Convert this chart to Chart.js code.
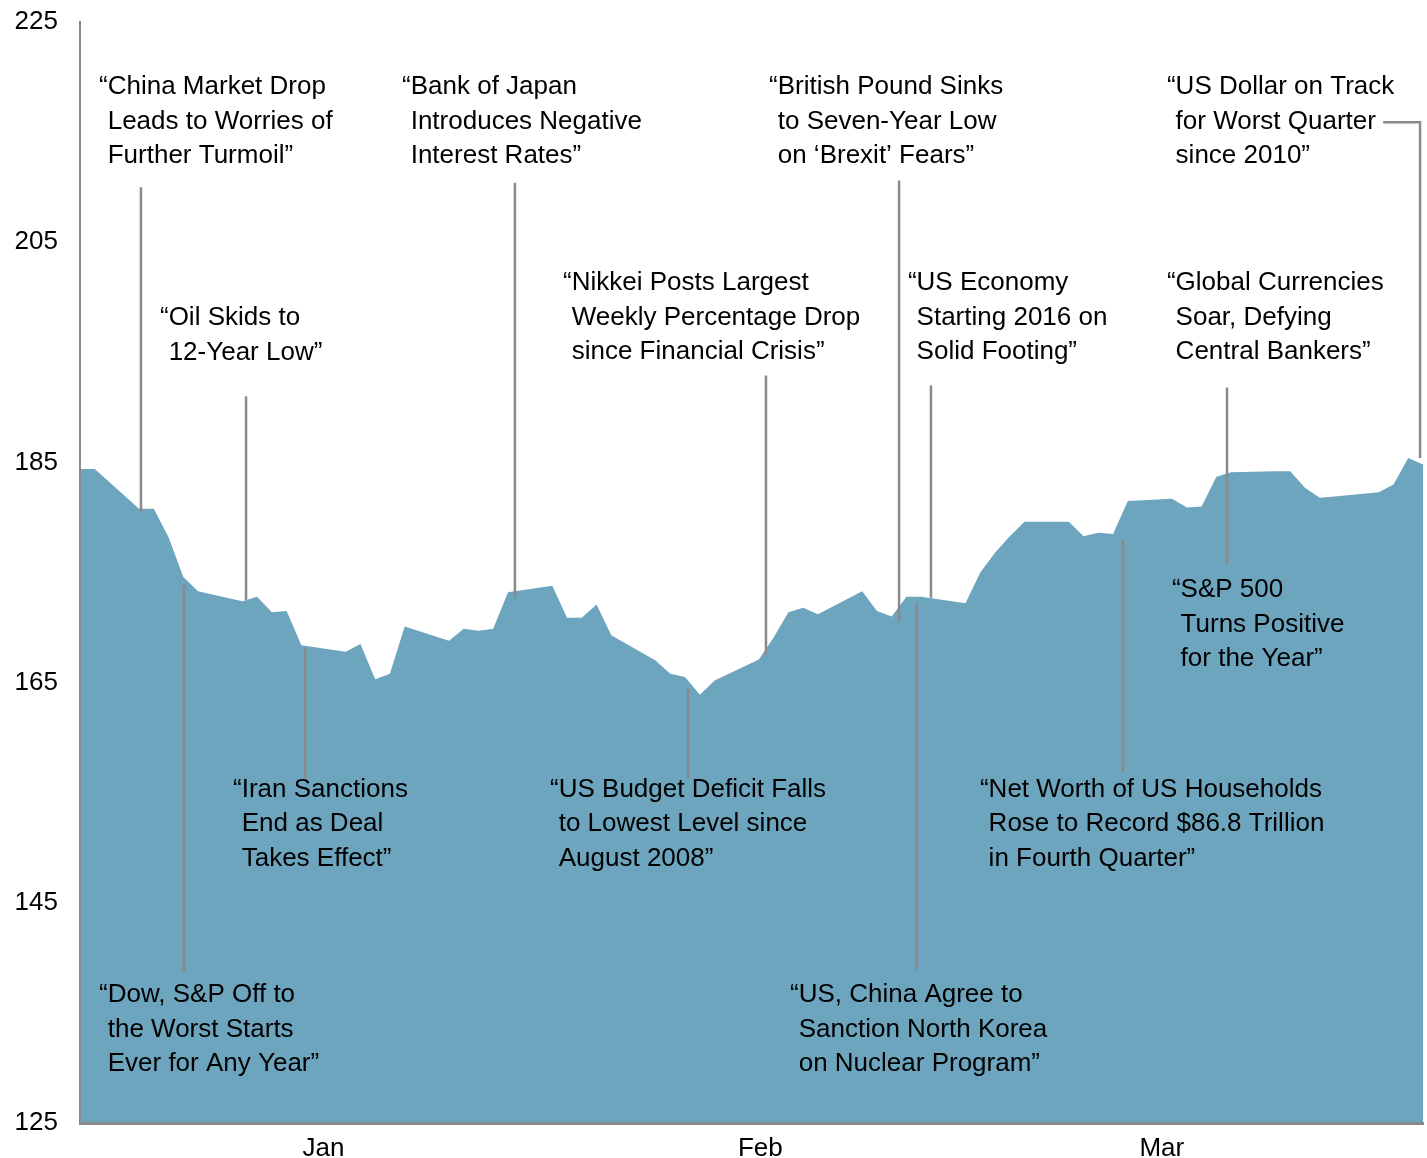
<!DOCTYPE html>
<html>
<head>
<meta charset="utf-8">
<script src="https://cdn.jsdelivr.net/npm/chart.js@4.4.1/dist/chart.umd.min.js"></script>
<style>
  html, body { margin: 0; padding: 0; background: #fff; }
  canvas { display: block; }
</style>
</head>
<body>
<canvas id="chart" width="1427" height="1158"></canvas>
<script>
// day number counted from 31 Dec 2015, weekends left out
const days = [0, 1, 4, 5, 6, 7, 8, 11, 12, 13, 14, 15, 18, 19, 20, 21, 22, 25, 26, 27, 28, 29,
  32, 33, 34, 35, 36, 39, 40, 41, 42, 43, 46, 47, 48, 49, 50, 53, 54, 55, 56, 57,
  60, 61, 62, 63, 64, 67, 68, 69, 70, 71, 74, 75, 76, 77, 78, 81, 82, 83, 84, 85, 88, 89, 90, 91];
const values = [184.4, 184.4, 180.8, 180.8, 178.2, 174.6, 173.3, 172.4, 172.8, 171.4, 171.5, 168.4,
  167.8, 168.5, 165.3, 165.8, 170.1, 168.8, 169.9, 169.7, 169.9, 173.2,
  173.8, 170.9, 170.9, 172.1, 169.3, 167.0, 165.8, 165.5, 163.9, 165.2,
  167.1, 169.1, 171.4, 171.8, 171.2, 173.3, 171.5, 171.0, 172.8, 172.8,
  172.2, 175.0, 176.8, 178.3, 179.6, 179.6, 178.3, 178.6, 178.5, 181.5,
  181.7, 180.9, 181.0, 183.7, 184.1, 184.2, 184.2, 182.7, 181.8, 181.9, 182.3, 183.0, 185.4, 184.8];

const monthLabels = ["Jan", "Feb", "Mar"];
const monthDays = [16.5, 46.1, 73.3];
const yTicks = [125, 145, 165, 185, 205, 225];

// headlines: text lines, where the text starts (day, value) and the leader line (day, from, to)
const headlines = [
  { lines: ["\u201CChina Market Drop", "Leads to Worries of", "Further Turmoil\u201D"], tx: 1.29, ty: 219.1, lx: 4.13, l1: 210.0, l2: 180.5 },
  { lines: ["\u201COil Skids to", "12-Year Low\u201D"], tx: 5.42, ty: 198.1, lx: 11.25, l1: 191.0, l2: 172.5 },
  { lines: ["\u201CBank of Japan", "Introduces Negative", "Interest Rates\u201D"], tx: 21.82, ty: 219.1, lx: 29.47, l1: 210.4, l2: 172.7 },
  { lines: ["\u201CNikkei Posts Largest", "Weekly Percentage Drop", "since Financial Crisis\u201D"], tx: 32.73, ty: 201.3, lx: 46.48, l1: 192.9, l2: 167.5 },
  { lines: ["\u201CBritish Pound Sinks", "to Seven-Year Low", "on \u2018Brexit\u2019 Fears\u201D"], tx: 46.69, ty: 219.1, lx: 55.5, l1: 210.6, l2: 170.5 },
  { lines: ["\u201CUS Economy", "Starting 2016 on", "Solid Footing\u201D"], tx: 56.1, ty: 201.3, lx: 57.66, l1: 192.0, l2: 172.7 },
  { lines: ["\u201CUS Dollar on Track", "for Worst Quarter", "since 2010\u201D"], tx: 73.65, ty: 219.1, lx: 90.8, l1: 215.9, l2: 185.4, elbow: 88.3 },
  { lines: ["\u201CGlobal Currencies", "Soar, Defying", "Central Bankers\u201D"], tx: 73.65, ty: 201.3, lx: 77.72, l1: 191.8, l2: 175.7 },
  { lines: ["\u201CDow, S&P Off to", "the Worst Starts", "Ever for Any Year\u201D"], tx: 1.29, ty: 136.6, lx: 7.05, l1: 173.9, l2: 138.7 },
  { lines: ["\u201CIran Sanctions", "End as Deal", "Takes Effect\u201D"], tx: 10.37, ty: 155.3, lx: 15.25, l1: 168.1, l2: 156.3 },
  { lines: ["\u201CUS Budget Deficit Falls", "to Lowest Level since", "August 2008\u201D"], tx: 31.85, ty: 155.3, lx: 41.2, l1: 164.5, l2: 156.3 },
  { lines: ["\u201CUS, China Agree to", "Sanction North Korea", "on Nuclear Program\u201D"], tx: 48.11, ty: 136.6, lx: 56.7, l1: 172.2, l2: 138.9 },
  { lines: ["\u201CNet Worth of US Households", "Rose to Record $86.8 Trillion", "in Fourth Quarter\u201D"], tx: 60.98, ty: 155.3, lx: 70.67, l1: 178.0, l2: 156.9 },
  { lines: ["\u201CS&P 500", "Turns Positive", "for the Year\u201D"], tx: 73.99, ty: 173.4, lx: null }
];

const FONT = "26px 'Liberation Sans', Arial, sans-serif";
const GREY = "#8a8a8a";

const headlinePlugin = {
  id: "headlines",
  afterDatasetsDraw(chart) {
    const ctx = chart.ctx;
    const xs = chart.scales.x, ys = chart.scales.y;
    ctx.save();
    ctx.strokeStyle = GREY;
    ctx.lineWidth = 2.5;
    headlines.forEach(h => {
      if (h.lx === null) return;
      const x = xs.getPixelForValue(h.lx);
      ctx.beginPath();
      if (h.elbow !== undefined) {
        ctx.moveTo(xs.getPixelForValue(h.elbow), ys.getPixelForValue(h.l1));
        ctx.lineTo(x, ys.getPixelForValue(h.l1));
      } else {
        ctx.moveTo(x, ys.getPixelForValue(h.l1));
      }
      ctx.lineTo(x, ys.getPixelForValue(h.l2));
      ctx.stroke();
    });
    ctx.font = FONT;
    ctx.fillStyle = "#000";
    ctx.textBaseline = "middle";
    ctx.textAlign = "left";
    const indent = ctx.measureText("\u201C").width;
    headlines.forEach(h => {
      const x0 = xs.getPixelForValue(h.tx);
      const y0 = ys.getPixelForValue(h.ty);
      h.lines.forEach((t, i) => {
        ctx.fillText(t, x0 + (i > 0 ? indent : 0), y0 + i * 34.5);
      });
    });
    ctx.restore();
  }
};

new Chart(document.getElementById("chart").getContext("2d"), {
  type: "line",
  data: {
    datasets: [{
      data: days.map((d, i) => ({ x: d, y: values[i] })),
      fill: "start",
      backgroundColor: "#6ca5bd",
      borderWidth: 0,
      pointRadius: 0,
      tension: 0
    }]
  },
  options: {
    responsive: false,
    animation: false,
    devicePixelRatio: 1,
    layout: { padding: { top: 22, right: 4, left: 0, bottom: 0 } },
    plugins: { legend: { display: false }, tooltip: { enabled: false } },
    scales: {
      x: {
        type: "linear",
        min: 0,
        max: 91,
        grid: { display: false, drawTicks: false },
        border: { display: true, color: GREY, width: 3, z: 1 },
        afterBuildTicks: scale => { scale.ticks = monthDays.map(v => ({ value: v })); },
        afterFit: scale => { scale.height = 35; scale.paddingLeft = 0; scale.paddingRight = 0; },
        ticks: {
          autoSkip: false,
          maxRotation: 0,
          padding: 10,
          color: "#000",
          font: { family: "'Liberation Sans', Arial, sans-serif", size: 26 },
          callback: (v, i) => monthLabels[i]
        }
      },
      y: {
        min: 125,
        max: 225,
        grid: { display: false, drawTicks: false },
        border: { display: true, color: GREY, width: 2, z: 1 },
        afterBuildTicks: scale => { scale.ticks = yTicks.map(v => ({ value: v })); },
        afterFit: scale => { scale.width = 80; scale.paddingTop = 0; scale.paddingBottom = 0; },
        ticks: {
          padding: 22,
          color: "#000",
          font: { family: "'Liberation Sans', Arial, sans-serif", size: 26 }
        }
      }
    }
  },
  plugins: [headlinePlugin]
});
</script>
</body>
</html>
